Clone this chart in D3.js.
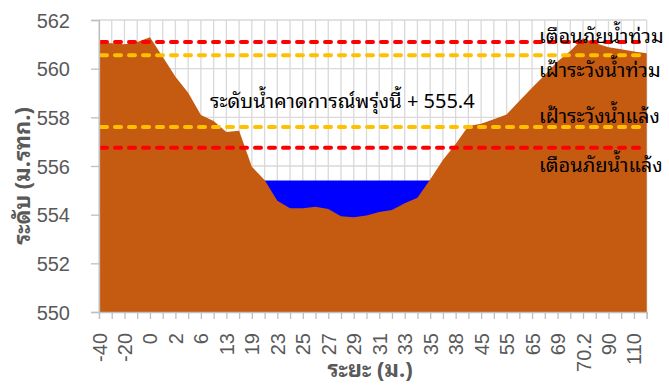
<!DOCTYPE html>
<html>
<head>
<meta charset="utf-8">
<script src="https://cdn.jsdelivr.net/npm/d3@7"></script>
<style>
  html, body { margin: 0; padding: 0; background: #fff; }
  svg { display: block; }
</style>
</head>
<body>
<svg id="chart" width="669" height="385"></svg>
<script>
// Cross-section distances (m); every other one is labelled on the axis
const distances = ["-40","-30","-20","-10","0","1","2","4","6","9","13","16","19","21","23","24",
  "25","26","27","28","29","30","31","32","33","34","35","36","38","41","45","50",
  "55","60","65","67","69","70","70.2","80","90","100","110","120"];

// Ground / river-bed elevation (m MSL) at each distance
const bedLevels = [561.08,561.04,561.0,561.1,561.29,560.49,559.67,559.01,558.1,557.85,557.4,557.45,
  555.97,555.42,554.57,554.26,554.26,554.33,554.23,553.94,553.89,553.97,554.11,554.19,554.47,554.7,
  555.45,556.25,556.9,557.64,557.74,557.92,558.12,558.67,559.22,559.74,560.29,560.73,561.25,561.04,
  560.88,560.8,560.71,560.63];

// Forecast water surface across the channel (null where there is no water)
const waterLevels = [null,null,null,null,null,null,null,null,null,null,null,null,null,
  555.4,555.4,555.4,555.4,555.4,555.4,555.4,555.4,555.4,555.4,555.4,555.4,555.4,555.4,
  null,null,null,null,null,null,null,null,null,null,null,null,null,null,null,null,null];

const forecastLevel = 555.4;

// Threshold levels
const thresholdNames  = ["เตือนภัยน้ำท่วม","เฝ้าระวังน้ำท่วม","เฝ้าระวังน้ำแล้ง","เตือนภัยน้ำแล้ง"];
const thresholdValues = [561.1, 560.55, 557.6, 556.75];
const thresholdColors = ["#FF0000","#FFC000","#FFC000","#FF0000"];

const yTicks = [550,552,554,556,558,560,562];

(function draw() {
const svg = d3.select("#chart");
const mLeft = 99, mRight = 646.7, mTop = 20, mBottom = 312;

const x = d3.scalePoint().domain(distances).range([mLeft, mRight]);
const y = d3.scaleLinear().domain([550, 562]).range([mBottom, mTop]);

const thaiFont = "'Noto Sans Thai Looped','Noto Serif Thai','Noto Sans Thai','Tahoma',sans-serif";
const numFont = "'Liberation Sans',Arial,sans-serif";

// gridlines
const grid = svg.append("g").attr("stroke", "#D9D9D9").attr("stroke-width", 1.3);
grid.selectAll("line.v").data(distances).join("line").attr("class", "v")
  .attr("x1", d => x(d)).attr("x2", d => x(d))
  .attr("y1", mTop).attr("y2", mBottom);
grid.selectAll("line.h").data(yTicks).join("line").attr("class", "h")
  .attr("x1", mLeft).attr("x2", mRight)
  .attr("y1", d => y(d)).attr("y2", d => y(d));

const rows = distances.map((k, i) => ({ k, b: bedLevels[i], w: waterLevels[i] }));

// water body
const water = d3.area()
  .defined(d => d.w !== null)
  .x(d => x(d.k)).y0(y(550)).y1(d => y(d.w));
svg.append("path").datum(rows).attr("fill", "#0000FF").attr("d", water);

// ground profile
const ground = d3.area().x(d => x(d.k)).y0(y(550)).y1(d => y(d.b));
svg.append("path").datum(rows).attr("fill", "#C55A11").attr("d", ground);

// threshold lines
svg.append("g").selectAll("line").data(thresholdValues).join("line")
  .attr("x1", mLeft + 2).attr("x2", mRight - 2)
  .attr("y1", d => y(d)).attr("y2", d => y(d))
  .attr("stroke", (d, i) => thresholdColors[i])
  .attr("stroke-width", 4)
  .attr("stroke-linecap", "round")
  .attr("stroke-dasharray", "6,8");

// axes
const xAxis = d3.axisBottom(x).tickSize(7)
  .tickFormat((d, i) => i % 2 === 0 ? d : "");
const gx = svg.append("g").attr("transform", `translate(0,${mBottom})`).call(xAxis);
gx.select(".domain").attr("stroke", "#BFBFBF").attr("stroke-width", 1.3);
gx.selectAll(".tick line").attr("stroke", "#BFBFBF").attr("stroke-width", 1.3);
gx.selectAll(".tick text")
  .attr("font-family", numFont).attr("font-size", 20).attr("fill", "#595959")
  .attr("text-anchor", "end")
  .attr("transform", "rotate(-90)")
  .attr("x", -21).attr("y", 0).attr("dy", "0.35em");

const yAxis = d3.axisLeft(y).tickValues(yTicks).tickSize(8).tickFormat(d3.format("d"));
const gy = svg.append("g").attr("transform", `translate(${mLeft},0)`).call(yAxis);
gy.select(".domain").attr("stroke", "#BFBFBF").attr("stroke-width", 1.3);
gy.selectAll(".tick line").attr("stroke", "#BFBFBF").attr("stroke-width", 1.3);
gy.selectAll(".tick text")
  .attr("font-family", numFont).attr("font-size", 20).attr("fill", "#595959")
  .attr("x", -29).attr("dy", "0.35em");

// threshold labels
const labelY = [43, 77, 123, 172];
svg.append("g").selectAll("text").data(thresholdNames).join("text")
  .attr("x", 539).attr("y", (d, i) => labelY[i])
  .attr("font-family", thaiFont).attr("font-size", 20).attr("fill", "#000")
  .text(d => d);

// forecast annotation
svg.append("text")
  .attr("x", 210).attr("y", 108)
  .attr("font-family", thaiFont).attr("font-size", 20).attr("fill", "#000")
  .text("ระดับน้ำคาดการณ์พรุ่งนี้ + " + forecastLevel);

// axis titles
svg.append("text")
  .attr("transform", "translate(30,176) rotate(-90)")
  .attr("text-anchor", "middle")
  .attr("font-family", thaiFont).attr("font-size", 22).attr("font-weight", "bold")
  .attr("fill", "#595959")
  .text("ระดับ (ม.รทก.)");

svg.append("text")
  .attr("x", 370).attr("y", 377)
  .attr("text-anchor", "middle")
  .attr("font-family", thaiFont).attr("font-size", 22).attr("font-weight", "bold")
  .attr("fill", "#595959")
  .text("ระยะ (ม.)");
})();
</script>
</body>
</html>
